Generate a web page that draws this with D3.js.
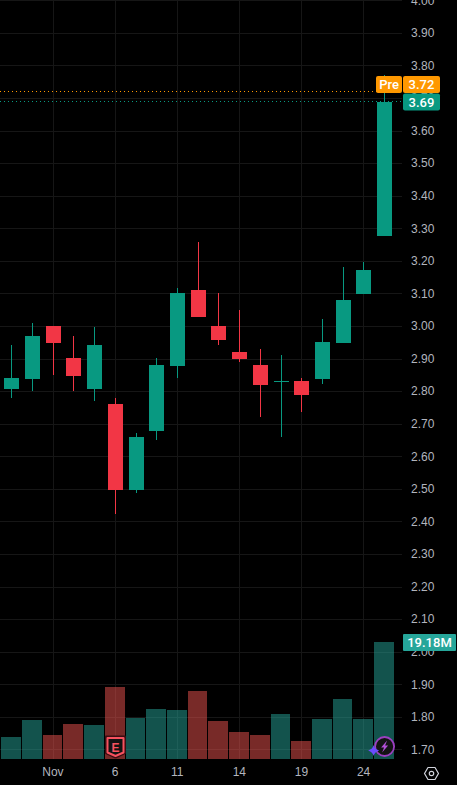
<!DOCTYPE html>
<html>
<head>
<meta charset="utf-8">
<script src="https://cdn.jsdelivr.net/npm/d3@7/dist/d3.min.js"></script>
<style>
  html, body { margin: 0; padding: 0; background: #000; overflow: hidden; }
  svg { display: block; }
  text { font-family: "Liberation Sans", Arial, sans-serif; }
</style>
</head>
<body>
<svg id="chart" width="457" height="785"></svg>
<script>
// Daily sessions, 30 Oct to 25 Nov
const sessions = ["Oct 30","Oct 31","Nov 3","Nov 4","Nov 5","Nov 6","Nov 7","Nov 10","Nov 11","Nov 12","Nov 13","Nov 14","Nov 17","Nov 18","Nov 19","Nov 20","Nov 21","Nov 24","Nov 25"];
const opens  = [2.808,2.839,3.000,2.903,2.808,2.762,2.498,2.679,2.879,3.112,3.000,2.922,2.882,2.831,2.833,2.839,2.949,3.100,3.278];
const highs  = [2.943,3.011,3.000,2.971,2.998,2.780,2.673,2.903,3.118,3.259,3.103,3.050,2.931,2.912,2.842,3.023,3.182,3.198,3.772];
const lows   = [2.781,2.802,2.851,2.802,2.771,2.424,2.490,2.651,2.842,3.029,2.943,2.891,2.722,2.661,2.737,2.823,2.949,3.100,3.278];
const closes = [2.842,2.971,2.949,2.848,2.943,2.498,2.661,2.882,3.103,3.029,2.958,2.900,2.820,2.832,2.790,2.952,3.081,3.173,3.690];
const volumes = [3.61,6.39,3.93,5.74,5.57,11.80,6.72,8.20,8.03,11.15,6.23,4.43,3.93,7.38,2.95,6.56,9.84,6.56,19.18];

const priceTicks = d3.range(17, 41).map(v => v / 10);
const dateTickIndex = [2, 5, 8, 11, 14, 17];
const dateTickLabels = ["Nov", "6", "11", "14", "19", "24"];

const lastPrice = 3.69, prePrice = 3.72, lastVolume = 19.18;

const UP = "#089981", DOWN = "#F23645", PRE = "#FF9800", GRID = "#161616", AXIS_TEXT = "#b2b5be";
const plotRight = 402, plotBottom = 759;

const svg = d3.select("#chart");
const x = d3.scaleLinear().domain([0, 18]).range([11.8, 384.6]);
const y = d3.scaleLinear().domain([1.7, 4.0]).range([749.9, 0.75]);
const v = d3.scaleLinear().domain([0, lastVolume]).range([plotBottom, 642]);
const isUp = i => closes[i] >= opens[i];
const idx = d3.range(sessions.length);

// Grid
const grid = svg.append("g").attr("stroke", GRID).attr("stroke-width", 1);
grid.selectAll("line.h").data(priceTicks).join("line").attr("class", "h")
  .attr("x1", 0).attr("x2", plotRight)
  .attr("y1", d => Math.floor(y(d)) + 0.5).attr("y2", d => Math.floor(y(d)) + 0.5);
grid.selectAll("line.v").data(dateTickIndex).join("line").attr("class", "v")
  .attr("y1", 0).attr("y2", plotBottom)
  .attr("x1", d => Math.floor(x(d)) + 0.5).attr("x2", d => Math.floor(x(d)) + 0.5);

// Volume histogram
const barLeft = i => Math.round(x(i) - 10.5);
svg.append("g").selectAll("rect").data(idx).join("rect")
  .attr("x", barLeft)
  .attr("width", i => i < idx.length - 1 ? barLeft(i + 1) - barLeft(i) - 1 : 20)
  .attr("y", i => Math.round(v(volumes[i])))
  .attr("height", i => plotBottom - Math.round(v(volumes[i])))
  .attr("fill", i => isUp(i) ? "rgba(38,166,154,0.5)" : "rgba(239,83,80,0.5)");

// Candlesticks
const candles = svg.append("g").selectAll("g").data(idx).join("g")
  .attr("fill", i => isUp(i) ? UP : DOWN);
candles.append("rect")
  .attr("x", i => Math.floor(x(i)))
  .attr("width", 1)
  .attr("y", i => Math.round(y(highs[i])))
  .attr("height", i => Math.max(1, Math.round(y(lows[i])) - Math.round(y(highs[i]))));
candles.append("rect")
  .attr("x", i => Math.floor(x(i)) - 7)
  .attr("width", 15)
  .attr("y", i => Math.round(y(Math.max(opens[i], closes[i]))))
  .attr("height", i => Math.max(1, Math.round(y(Math.min(opens[i], closes[i]))) - Math.round(y(Math.max(opens[i], closes[i])))));

// Dotted price lines
[[PRE, 91.5], [UP, 101.5]].forEach(([color, py]) => {
  svg.append("line").attr("x1", 0).attr("x2", plotRight).attr("y1", py).attr("y2", py)
    .attr("stroke", color).attr("stroke-width", 1).attr("stroke-dasharray", "1 3");
});

// Axes
const yAxis = d3.axisRight(y).tickValues(priceTicks).tickFormat(d3.format(".2f")).tickSize(0).tickPadding(0);
const yG = svg.append("g").attr("transform", "translate(411,-0.5)").call(yAxis);
const xAxis = d3.axisBottom(x).tickValues(dateTickIndex)
  .tickFormat(d => dateTickLabels[dateTickIndex.indexOf(d)]).tickSize(0).tickPadding(0);
const xG = svg.append("g").attr("transform", "translate(-0.8,767)").call(xAxis);
[yG, xG].forEach(g => {
  g.select(".domain").remove();
  g.selectAll("text").attr("fill", AXIS_TEXT).attr("font-size", 12)
    .style("font-family", "'Liberation Sans', Arial, sans-serif");
});

// Value tags on the price scale
function tag(bx, by, w, h, color, label, radius) {
  svg.append("rect").attr("x", bx).attr("y", by).attr("width", w).attr("height", h)
    .attr("rx", radius).attr("fill", color);
  svg.append("text").attr("x", bx + w / 2).attr("y", by + h / 2 + 4.5)
    .attr("text-anchor", "middle").attr("fill", "#fff").attr("font-size", 13)
    .attr("font-weight", 500).style("font-family", "Roboto, sans-serif").text(label);
}
tag(376, 76, 26, 17, PRE, "Pre", 2);
tag(403, 76, 37, 17, PRE, prePrice.toFixed(2), 2);
tag(403, 93.5, 37, 17, UP, lastPrice.toFixed(2), 2);
tag(403, 634, 53, 17, "#26A69A", lastVolume.toFixed(2) + "M", 1);

// Earnings marker
const earnings = svg.append("g").attr("transform", `translate(${Math.floor(x(5)) + 0.5},747)`);
earnings.append("path")
  .attr("d", "M-9.5,-10.5 H9.5 V6 L0,10.5 L-9.5,6 Z")
  .attr("fill", "#000").attr("stroke", "#3a0d12").attr("stroke-width", 2).attr("stroke-linejoin", "round");
earnings.append("path")
  .attr("d", "M-8,-9 H8 V5.5 L0,9 L-8,5.5 Z")
  .attr("fill", "#131313").attr("stroke", "#F7525F").attr("stroke-width", 2).attr("stroke-linejoin", "round");
earnings.append("text").attr("text-anchor", "middle").attr("y", 4.5)
  .attr("fill", "#F7525F").attr("font-size", 12).attr("font-weight", 700).text("E");

// Lightning badge on the last bar
const badge = svg.append("g").attr("transform", `translate(${x(18)},746.5)`);
badge.append("circle").attr("r", 9.5).attr("fill", "#131313").attr("stroke", "#9C3FC0").attr("stroke-width", 1.8);
badge.append("path").attr("d", "M2.5,-6 L-3.5,1 H-0.5 L-2.5,6 L3.5,-1 H0.5 Z").attr("fill", "#B24FD6");
badge.append("path").attr("d", "M-11,-1.5 Q-10.3,2.5 -5.5,4 Q-10.3,5.5 -11,9.5 Q-11.7,5.5 -16.5,4 Q-11.7,2.5 -11,-1.5 Z").attr("fill", "#6A4DFF");

// Chart settings button
const gear = svg.append("g").attr("transform", "translate(431.5,773.5)")
  .attr("fill", "none").attr("stroke", "#d1d4dc").attr("stroke-width", 1.2);
gear.append("path").attr("d", "M-7,0 L-3.5,-6 H3.5 L7,0 L3.5,6 H-3.5 Z").attr("stroke-linejoin", "round");
gear.append("circle").attr("r", 2.2);
</script>
</body>
</html>
